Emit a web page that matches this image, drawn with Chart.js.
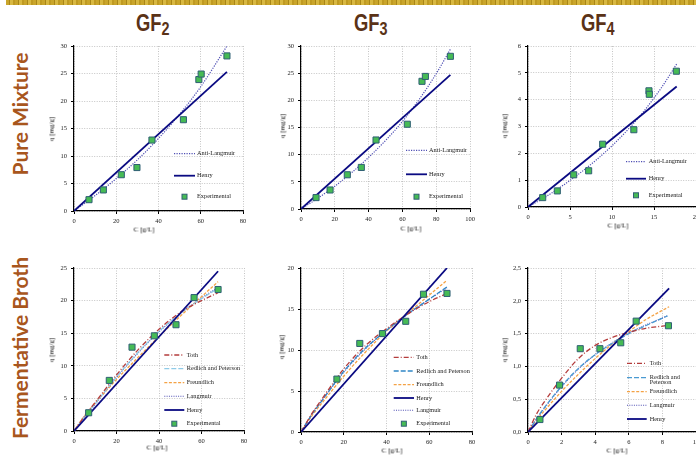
<!DOCTYPE html>
<html>
<head>
<meta charset="utf-8">
<script src="https://cdn.jsdelivr.net/npm/chart.js@4.4.1/dist/chart.umd.min.js"></script>
<style>
  html, body { margin: 0; padding: 0; background: #fff; }
  body { width: 696px; height: 455px; position: relative; overflow: hidden; }
  .banner { position: absolute; left: 6px; top: 0; width: 690px; height: 5px;
    background: repeating-linear-gradient(90deg, #c9a52b 0 3px, #a98617 3px 4px, #d8b842 4px 7px, #bf9a22 7px 9px); }
  .col { position: absolute; top: 12px; font: bold 23px "Liberation Sans", Arial, sans-serif; color: #5a3217;
    line-height: 23px; white-space: nowrap; transform: scaleX(0.8); transform-origin: left top; }
  .col span { font-size: 18px; position: relative; top: 4px; }
  .row { position: absolute; font: bold 21px Lato, "Noto Sans", sans-serif; color: #a8561d; white-space: nowrap;
    transform: translate(-50%, -50%) rotate(-90deg); line-height: 21px; }
  .ax { position: absolute; font: 7px "Liberation Serif", serif; color: #000; white-space: nowrap; line-height: 7px;
    will-change: transform; }
  .ay { transform: translate(-50%, -50%) rotate(-90deg); }
  .axx { transform: translate(-50%, -50%) rotate(0.01deg); }
  canvas { position: absolute; }
</style>
</head>
<body>
<div class="banner"></div>
<div class="col" style="left:136px">GF<span>2</span></div>
<div class="col" style="left:354px">GF<span>3</span></div>
<div class="col" style="left:581px">GF<span>4</span></div>
<div class="row" style="left:19px; top:114px">Pure Mixture</div>
<div class="row" style="left:19px; top:348px">Fermentative Broth</div>

<div class="ax ay" style="left:52px; top:129px">q [mg/g]</div>
<div class="ax ay" style="left:283px; top:126px">q [mg/g]</div>
<div class="ax ay" style="left:505px; top:126px">q [mg/g]</div>
<div class="ax ay" style="left:52px; top:350px">q [mg/g]</div>
<div class="ax ay" style="left:282px; top:347px">q [mg/g]</div>
<div class="ax ay" style="left:505px; top:350px">q [mg/g]</div>
<div class="ax axx" style="left:144px; top:230px">C [g/L]</div>
<div class="ax axx" style="left:411px; top:229px">C [g/L]</div>
<div class="ax axx" style="left:618px; top:226px">C [g/L]</div>
<div class="ax axx" style="left:157px; top:448px">C [g/L]</div>
<div class="ax axx" style="left:392px; top:451px">C [g/L]</div>
<div class="ax axx" style="left:617px; top:451px">C [g/L]</div>

<script>
// ---- GF2, pure mixture
const gf2PureExpC = [7.1, 13.9, 22.4, 29.8, 36.9, 51.8, 59.1, 60.2, 72.4];
const gf2PureExpQ = [2.06, 3.83, 6.6, 7.9, 12.9, 16.6, 23.9, 24.9, 28.2];
const gf2PureHenryC = [0, 72.4];
const gf2PureHenryQ = [0, 25.3];
const gf2PureAntiC = [0, 10, 20, 30, 40, 50, 60, 72.4];
const gf2PureAntiQ = [0, 2.8, 5.9, 9.3, 13.2, 17.6, 22.6, 30.0];

// ---- GF3, pure mixture
const gf3PureExpC = [8.9, 17.2, 27.4, 35.7, 44.4, 62.9, 71.6, 73.6, 88.4];
const gf3PureExpQ = [2.1, 3.5, 6.3, 7.65, 12.7, 15.6, 23.5, 24.4, 28.1];
const gf3PureHenryC = [0, 88.4];
const gf3PureHenryQ = [0, 24.7];
const gf3PureAntiC = [0, 10, 20, 30, 40, 50, 60, 70, 80, 88.4];
const gf3PureAntiQ = [0, 2.0, 4.2, 6.7, 9.5, 12.6, 16.1, 20.2, 24.9, 29.4];

// ---- GF4, pure mixture
const gf4PureExpC = [1.75, 3.49, 5.44, 7.22, 8.89, 12.6, 14.4, 14.44, 17.66];
const gf4PureExpQ = [0.35, 0.6, 1.2, 1.35, 2.34, 2.88, 4.33, 4.2, 5.06];
const gf4PureHenryC = [0, 17.7];
const gf4PureHenryQ = [0, 4.49];
const gf4PureAntiC = [0, 2, 4, 6, 8, 10, 12, 14, 16, 17.7];
const gf4PureAntiQ = [0, 0.36, 0.77, 1.22, 1.72, 2.28, 2.92, 3.65, 4.5, 5.33];

// ---- GF2, fermentative broth
const gf2BrothExpC = [6.9, 16.6, 27.3, 37.8, 48.0, 56.5, 67.8];
const gf2BrothExpQ = [2.8, 7.76, 12.86, 14.6, 16.3, 20.46, 21.7];
const gf2BrothHenryC = [0, 67.8];
const gf2BrothHenryQ = [0, 24.5];
const gf2BrothFitC = [0, 5, 10, 20, 30, 40, 50, 60, 67.8];
const gf2BrothTothQ = [0, 2.3, 4.4, 8.6, 12.4, 15.6, 18.2, 20.0, 21.2];
const gf2BrothRPQ = [0, 2.2, 4.2, 8.3, 12.0, 15.3, 18.0, 20.3, 21.9];
const gf2BrothFreundQ = [0, 2.36, 4.3, 7.9, 11.25, 14.5, 17.6, 20.6, 22.9];
const gf2BrothLangQ = [0, 2.1, 4.1, 8.2, 11.9, 15.2, 18.0, 20.4, 22.0];

// ---- GF3, fermentative broth
const gf3BrothExpC = [16.8, 27.5, 38.1, 49.0, 57.3, 68.3];
const gf3BrothExpQ = [6.45, 10.8, 12.0, 13.5, 16.8, 16.9];
const gf3BrothHenryC = [0, 68.3];
const gf3BrothHenryQ = [0, 20.0];
const gf3BrothFitC = [0, 5, 10, 20, 30, 40, 50, 60, 68.3];
const gf3BrothTothQ = [0, 2.2, 4.1, 7.7, 10.5, 12.6, 14.4, 15.9, 16.9];
const gf3BrothRPQ = [0, 2.1, 3.9, 7.4, 10.2, 12.4, 14.4, 16.2, 17.7];
const gf3BrothFreundQ = [0, 1.95, 3.6, 6.8, 9.7, 12.3, 14.5, 16.7, 18.5];
const gf3BrothLangQ = [0, 2.1, 3.9, 7.3, 10.1, 12.4, 14.4, 16.2, 17.6];

// ---- GF4, fermentative broth
const gf4BrothExpC = [0.71, 1.88, 3.11, 4.28, 5.52, 6.44, 8.36];
const gf4BrothExpQ = [0.19, 0.715, 1.27, 1.27, 1.36, 1.69, 1.62];
const gf4BrothHenryC = [0, 8.4];
const gf4BrothHenryQ = [0, 2.19];
const gf4BrothTothC = [0, 0.5, 1, 2, 3, 4, 5, 6, 7, 8.2];
const gf4BrothTothQ = [0, 0.27, 0.47, 0.82, 1.12, 1.32, 1.44, 1.52, 1.58, 1.62];
const gf4BrothFitC = [0, 0.5, 1, 2, 3, 4, 5, 6, 7, 8.3];
const gf4BrothRPQ = [0, 0.2, 0.38, 0.7, 0.97, 1.18, 1.35, 1.5, 1.62, 1.77];
const gf4BrothLangQ = [0, 0.19, 0.37, 0.69, 0.96, 1.18, 1.36, 1.51, 1.63, 1.77];
const gf4BrothFreundC = [0, 0.5, 1, 2, 3, 4, 5, 6, 7, 8.4];
const gf4BrothFreundQ = [0, 0.18, 0.33, 0.62, 0.88, 1.12, 1.34, 1.53, 1.71, 1.91];

function pts(xs, ys) { return xs.map((x, i) => ({ x: x, y: ys[i] })); }

// series styles
function exp(c, q) {
  return { label: 'Experimental', data: pts(c, q), showLine: false, pointStyle: 'rect', pointRadius: 4.3,
    backgroundColor: '#46bb55', borderColor: '#2f5f74', borderWidth: 1 };
}
function curve(label, c, q, color, dash, width) {
  return { label: label, data: pts(c, q), showLine: true, pointRadius: 0, borderColor: color,
    borderDash: dash, borderWidth: width, cubicInterpolationMode: 'monotone', fill: false };
}
const henry = (c, q) => curve('Henry', c, q, '#0a0a82', [], 1.8);
const anti = (c, q) => curve('Anti-Langmuir', c, q, '#4f4fb4', [1.2, 1.3], 1.2);
const lang = (c, q) => curve('Langmuir', c, q, '#4d4db3', [1, 1.3], 1.1);
const toth = (c, q) => curve('Toth', c, q, '#b43c3c', [5, 2, 1, 2], 1.3);
const rp = (c, q, col) => curve('Redlich and Peterson', c, q, col, [5, 2], 1.3);
const freund = (c, q) => curve('Freundlich', c, q, '#f4a245', [3, 1.6], 1.3);

// inside legend, drawn from the datasets' own styles
const insideLegend = {
  id: 'insideLegend',
  afterDraw(chart, args, o) {
    const ctx = chart.ctx;
    ctx.save();
    ctx.font = '6.3px "Liberation Serif"';
    ctx.textBaseline = 'middle';
    o.items.forEach(it => {
      const ds = chart.data.datasets.find(d => d.label === it.label);
      const y = it.y - o.oy;
      if (ds.showLine) {
        ctx.beginPath();
        ctx.setLineDash(ds.borderDash);
        ctx.lineWidth = ds.borderWidth;
        ctx.strokeStyle = ds.borderColor;
        ctx.moveTo(o.x0 - o.ox, y);
        ctx.lineTo(o.x1 - o.ox, y);
        ctx.stroke();
        ctx.setLineDash([]);
      } else {
        const mx = (o.x0 + o.x1) / 2 - o.ox;
        ctx.fillStyle = ds.backgroundColor;
        ctx.strokeStyle = ds.borderColor;
        ctx.lineWidth = 1;
        ctx.fillRect(mx - 2.5, y - 2.5, 5, 5);
        ctx.strokeRect(mx - 2.5, y - 2.5, 5, 5);
      }
      ctx.fillStyle = '#222';
      (it.text || it.label).split('\n').forEach((t, i) => ctx.fillText(t, o.tx - o.ox, y + i * 5));
    });
    ctx.restore();
  }
};

const L = 30, T = 8, R = 10, B = 20;
const tickFont = { family: 'Liberation Serif', size: 6.5 };

function panel(p) {
  const cv = document.createElement('canvas');
  const left = Math.round(p.x0 - L), top = Math.round(p.y0 - T);
  const w = Math.round(p.x1 - p.x0) + L + R, h = Math.round(p.y1 - p.y0) + T + B;
  cv.width = w; cv.height = h;
  cv.style.left = left + 'px'; cv.style.top = top + 'px';
  cv.style.width = w + 'px'; cv.style.height = h + 'px';
  document.body.appendChild(cv);
  const axis = (min, max, step, fmt) => ({
    type: 'linear', min: min, max: max,
    ticks: { stepSize: step, font: tickFont, color: '#222', padding: 3, autoSkip: false, maxRotation: 0,
      callback: fmt || (v => v) },
    grid: { color: '#b5b5b5', lineWidth: 0.8, tickColor: '#000', tickLength: 3, tickWidth: 1 },
    border: { color: '#000', width: 1.2, dash: [1, 1.5] }
  });
  const xs = axis(0, p.xmax, p.xstep);
  xs.afterFit = s => { s.height = B; };
  const ys = axis(0, p.ymax, p.ystep, p.yfmt);
  ys.ticks.padding = 4;
  ys.afterFit = s => { s.width = L; };
  new Chart(cv, {
    type: 'scatter',
    data: { datasets: p.datasets },
    options: {
      responsive: false, animation: false, events: [],
      layout: { padding: { top: T, right: R, left: 0, bottom: 0 } },
      plugins: {
        legend: { display: false }, tooltip: { enabled: false },
        insideLegend: Object.assign({ ox: left, oy: top }, p.legend)
      },
      scales: { x: xs, y: ys }
    },
    plugins: [insideLegend]
  });
}

const comma = v => v.toFixed(1).replace('.', ',');

panel({ x0: 74, y0: 46, x1: 243, y1: 210.5, xmax: 80, xstep: 20, ymax: 30, ystep: 5,
  datasets: [exp(gf2PureExpC, gf2PureExpQ), henry(gf2PureHenryC, gf2PureHenryQ), anti(gf2PureAntiC, gf2PureAntiQ)],
  legend: { x0: 174, x1: 195, tx: 197, items: [
    { label: 'Anti-Langmuir', y: 153.7 }, { label: 'Henry', y: 175.7 }, { label: 'Experimental', y: 196.7 }] } });

panel({ x0: 300.7, y0: 46, x1: 469.5, y1: 209.3, xmax: 100, xstep: 20, ymax: 30, ystep: 5,
  datasets: [exp(gf3PureExpC, gf3PureExpQ), henry(gf3PureHenryC, gf3PureHenryQ), anti(gf3PureAntiC, gf3PureAntiQ)],
  legend: { x0: 406, x1: 427, tx: 429, items: [
    { label: 'Anti-Langmuir', y: 150.3 }, { label: 'Henry', y: 174.3 }, { label: 'Experimental', y: 196.7 }] } });

panel({ x0: 527.7, y0: 46, x1: 695.7, y1: 207.3, xmax: 20, xstep: 5, ymax: 6, ystep: 1,
  datasets: [exp(gf4PureExpC, gf4PureExpQ), henry(gf4PureHenryC, gf4PureHenryQ), anti(gf4PureAntiC, gf4PureAntiQ)],
  legend: { x0: 626, x1: 646, tx: 648.7, items: [
    { label: 'Anti-Langmuir', y: 161.7 }, { label: 'Henry', y: 178.7 }, { label: 'Experimental', y: 195.3 }] } });

panel({ x0: 74.3, y0: 268.3, x1: 244, y1: 431.7, xmax: 80, xstep: 20, ymax: 25, ystep: 5,
  datasets: [exp(gf2BrothExpC, gf2BrothExpQ), henry(gf2BrothHenryC, gf2BrothHenryQ),
    toth(gf2BrothFitC, gf2BrothTothQ), rp(gf2BrothFitC, gf2BrothRPQ, '#8fcbe8'),
    freund(gf2BrothFitC, gf2BrothFreundQ), lang(gf2BrothFitC, gf2BrothLangQ)],
  legend: { x0: 164.3, x1: 184.3, tx: 186.7, items: [
    { label: 'Toth', y: 355 }, { label: 'Redlich and Peterson', y: 368.7 }, { label: 'Freundlich', y: 382.7 },
    { label: 'Langmuir', y: 396.3 }, { label: 'Henry', y: 410 }, { label: 'Experimental', y: 423.7 }] } });

panel({ x0: 301, y0: 268.3, x1: 472, y1: 432.7, xmax: 80, xstep: 20, ymax: 20, ystep: 5,
  datasets: [exp(gf3BrothExpC, gf3BrothExpQ), henry(gf3BrothHenryC, gf3BrothHenryQ),
    toth(gf3BrothFitC, gf3BrothTothQ), rp(gf3BrothFitC, gf3BrothRPQ, '#2f86c6'),
    freund(gf3BrothFitC, gf3BrothFreundQ), lang(gf3BrothFitC, gf3BrothLangQ)],
  legend: { x0: 393.7, x1: 414, tx: 416.3, items: [
    { label: 'Toth', y: 357.3 }, { label: 'Redlich and Peterson', y: 371 }, { label: 'Freundlich', y: 384.7 },
    { label: 'Henry', y: 398 }, { label: 'Langmuir', y: 410.3 }, { label: 'Experimental', y: 423.7 }] } });

panel({ x0: 527.7, y0: 268.3, x1: 696, y1: 432.7, xmax: 10, xstep: 2, ymax: 2.5, ystep: 0.5, yfmt: comma,
  datasets: [exp(gf4BrothExpC, gf4BrothExpQ), henry(gf4BrothHenryC, gf4BrothHenryQ),
    toth(gf4BrothTothC, gf4BrothTothQ), rp(gf4BrothFitC, gf4BrothRPQ, '#4a9ad2'),
    freund(gf4BrothFreundC, gf4BrothFreundQ), lang(gf4BrothFitC, gf4BrothLangQ)],
  legend: { x0: 627, x1: 646.7, tx: 649.7, items: [
    { label: 'Toth', y: 363.3 }, { label: 'Redlich and Peterson', text: 'Redlich and\nPeterson', y: 377.7 },
    { label: 'Freundlich', y: 391.7 }, { label: 'Langmuir', y: 405.3 }, { label: 'Henry', y: 419 }] } });
</script>
</body>
</html>
